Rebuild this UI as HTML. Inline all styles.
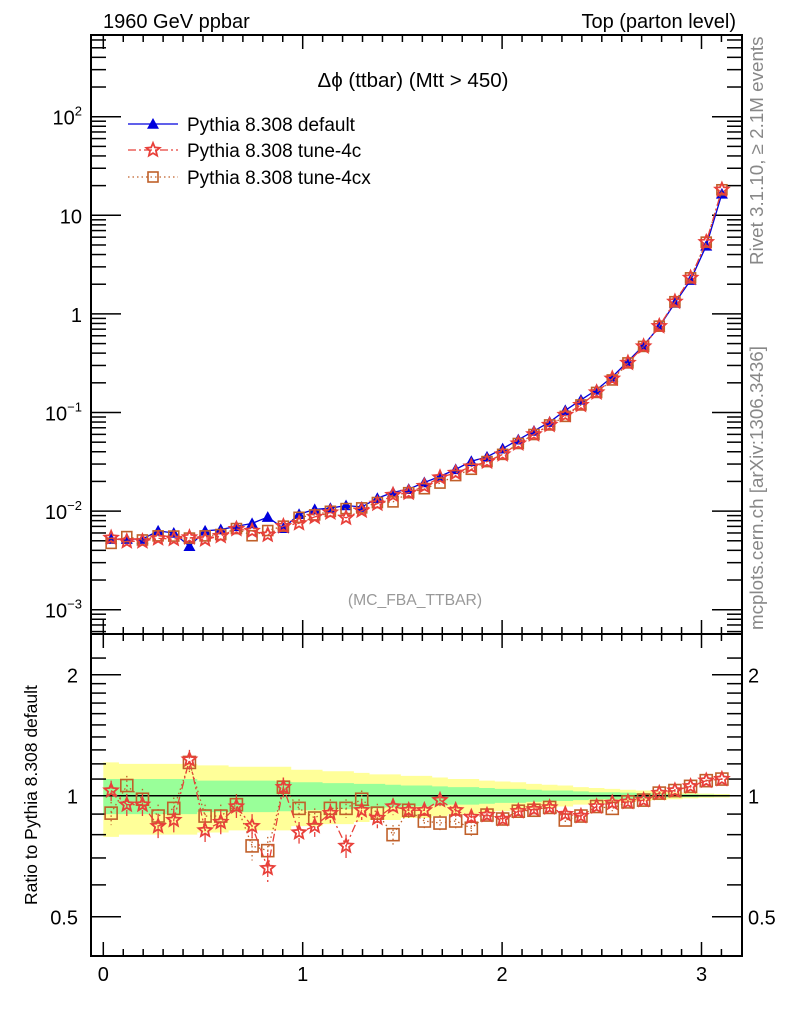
<!DOCTYPE html>
<html><head><meta charset="utf-8">
<style>
body{margin:0;background:#fff;}
svg{display:block;font-family:"Liberation Sans",sans-serif;}
</style></head>
<body>
<svg id="chart" width="786" height="1024" viewBox="0 0 786 1024" xmlns="http://www.w3.org/2000/svg">
<text x="103" y="28" font-size="20">1960 GeV ppbar</text>
<text x="736" y="28" font-size="20" text-anchor="end">Top (parton level)</text>
<text x="413" y="87" font-size="20.5" text-anchor="middle">Δϕ (ttbar) (Mtt &gt; 450)</text>
<text x="415" y="605" font-size="15.7" fill="#999" text-anchor="middle">(MC_FBA_TTBAR)</text>
<text transform="translate(763,265) rotate(-90)" font-size="18.8" fill="#888">Rivet 3.1.10, ≥ 2.1M events</text>
<text transform="translate(763,630) rotate(-90)" font-size="18.8" fill="#888">mcplots.cern.ch [arXiv:1306.3436]</text>
<text transform="translate(37,905) rotate(-90)" font-size="17.5">Ratio to Pythia 8.308 default</text>
<g id="bands"></g>
<g id="axes"></g>
<g id="series"></g>
<g id="legend"></g>
</svg>
<script>
const NS="http://www.w3.org/2000/svg";
const nBins=40;
const defaultVals=[0.0052,0.0052,0.0052,0.0063,0.006,0.0044,0.0063,0.0065,0.007,0.0075,0.0087,0.0067,0.0093,0.0104,0.0107,0.0114,0.011,0.0135,0.0155,0.0167,0.0195,0.0225,0.0265,0.032,0.0355,0.043,0.053,0.065,0.08,0.105,0.134,0.17,0.23,0.33,0.48,0.74,1.29,2.2,4.9,16.5];
const ratio4c=[1.03,0.95,0.95,0.84,0.87,1.23,0.82,0.86,0.94,0.84,0.66,1.05,0.81,0.84,0.905,0.75,0.92,0.88,0.94,0.92,0.92,0.975,0.92,0.885,0.895,0.875,0.915,0.925,0.935,0.90,0.89,0.94,0.96,0.965,0.975,1.015,1.03,1.055,1.09,1.1];
const ratio4cx=[0.905,1.06,0.98,0.89,0.93,1.21,0.89,0.89,0.95,0.75,0.73,1.05,0.93,0.88,0.93,0.93,0.98,0.905,0.80,0.92,0.865,0.855,0.865,0.83,0.895,0.875,0.915,0.92,0.935,0.87,0.89,0.94,0.93,0.965,0.975,1.015,1.03,1.055,1.09,1.1];
const ratioErr=[0.06,0.06,0.06,0.06,0.06,0.07,0.06,0.06,0.06,0.06,0.06,0.06,0.05,0.05,0.05,0.05,0.05,0.05,0.045,0.04,0.04,0.04,0.035,0.035,0.03,0.03,0.025,0.025,0.02,0.02,0.02,0.015,0.015,0.012,0.01,0.01,0.008,0.008,0.006,0.005];
const band1=[0.1,0.1,0.1,0.1,0.1,0.1,0.09,0.09,0.09,0.09,0.09,0.085,0.08,0.08,0.075,0.075,0.07,0.07,0.065,0.06,0.06,0.055,0.05,0.05,0.045,0.04,0.04,0.035,0.03,0.03,0.025,0.02,0.02,0.018,0.015,0.012,0.01,0.008,0.006,0.005];
const band2=[0.21,0.2,0.2,0.2,0.2,0.2,0.19,0.19,0.18,0.18,0.18,0.18,0.16,0.16,0.15,0.15,0.14,0.13,0.13,0.12,0.12,0.11,0.1,0.1,0.09,0.085,0.08,0.07,0.065,0.06,0.05,0.045,0.04,0.035,0.03,0.025,0.02,0.015,0.012,0.01];
const xTicks=[0,1,2,3];
const mainTicks=[[2,"10<tspan dy='-9' font-size='13'>2</tspan>"],[1,"10"],[0,"1"],[-1,"10<tspan dy='-9' font-size='13'>−1</tspan>"],[-2,"10<tspan dy='-9' font-size='13'>−2</tspan>"],[-3,"10<tspan dy='-9' font-size='13'>−3</tspan>"]];
const ratioTicks=[[2,"2"],[1,"1"],[0.5,"0.5"]];

const L=91,R=742,T=35,MB=634,RB=956;
const X=v=>103.3+v*199.4;
const YM=v=>116.7-(Math.log10(v)-2)*98.6;
const YR=v=>795.7-Math.log2(v)*121;
const binW=Math.PI/nBins;
const centers=defaultVals.map((_,i)=>(i+0.5)*binW);

function el(tag,attrs,parent){const e=document.createElementNS(NS,tag);for(const k in attrs)e.setAttribute(k,attrs[k]);parent.appendChild(e);return e;}
const axes=document.getElementById('axes'),series=document.getElementById('series'),bands=document.getElementById('bands'),legend=document.getElementById('legend');

function bandPath(b){let top="",bot="";for(let i=0;i<nBins;i++){const x0=X(i*binW),x1=X((i+1)*binW);top+=`L${x0},${YR(1+b[i])}L${x1},${YR(1+b[i])}`;}
for(let i=nBins-1;i>=0;i--){const x0=X(i*binW),x1=X((i+1)*binW);bot+=`L${x1},${YR(1-b[i])}L${x0},${YR(1-b[i])}`;}return "M"+top.slice(1)+bot+"Z";}
let p=el('path',{d:bandPath(band2),fill:'#ffff99'},bands);


p=el('path',{d:bandPath(band1),fill:'#99ff99'},bands);


el('line',{x1:L,x2:R,y1:YR(1),y2:YR(1),stroke:'#000','stroke-width':1.5},bands);

el('rect',{x:L,y:T,width:R-L,height:MB-T,fill:'none',stroke:'#000','stroke-width':2},axes);
el('rect',{x:L,y:MB,width:R-L,height:RB-MB,fill:'none',stroke:'#000','stroke-width':2},axes);
for(let v=0;v<=3.2;v+=0.1){const x=X(v);if(x>R)break;const maj=Math.abs(v-Math.round(v))<1e-6;const len=maj?14:7;
 for(const [y0,dir] of [[T,1],[MB,-1],[MB,1],[RB,-1]]) el('line',{x1:x,x2:x,y1:y0,y2:y0+dir*len,stroke:'#000','stroke-width':1.5},axes);}
xTicks.forEach(v=>{const t=el('text',{x:X(v),y:981,'font-size':20,'text-anchor':'middle'},axes);t.textContent=v;

});
for(let d=-4;d<=2;d++){for(let m=1;m<=9;m++){const y=YM(m*Math.pow(10,d));if(y<T||y>MB)continue;const len=m==1?30:15;
 el('line',{x1:L,x2:L+len,y1:y,y2:y,stroke:'#000','stroke-width':1.5},axes);el('line',{x1:R,x2:R-len,y1:y,y2:y,stroke:'#000','stroke-width':1.5},axes);}}
mainTicks.forEach(([d,lab])=>{const t=el('text',{x:82,y:YM(Math.pow(10,d))+8,'font-size':20,'text-anchor':'end'},axes);t.innerHTML=lab;

});
[0.5,0.6,0.7,0.8,0.9,1,1.1,1.2,1.3,1.4,1.5,1.6,1.7,1.8,1.9,2,2.2].forEach(v=>{const y=YR(v);const maj=[0.5,1,2].includes(v);const len=maj?30:15;
 el('line',{x1:L,x2:L+len,y1:y,y2:y,stroke:'#000','stroke-width':1.5},axes);el('line',{x1:R,x2:R-len,y1:y,y2:y,stroke:'#000','stroke-width':1.5},axes);});
ratioTicks.forEach(([v,lab])=>{let t=el('text',{x:78,y:YR(v)+8,'font-size':20,'text-anchor':'end'},axes);t.textContent=lab;


t=el('text',{x:748,y:YR(v)+8,'font-size':20},axes);t.textContent=lab;

});

function tri(x,y,s,c,g){el('path',{d:`M${x},${y-s}L${x+s},${y+s*0.8}L${x-s},${y+s*0.8}Z`,fill:c},g);}
function star(x,y,s,c,g){let d="";for(let k=0;k<10;k++){const r=k%2?s*0.45:s;const a=-Math.PI/2+k*Math.PI/5;d+=(k?"L":"M")+(x+r*Math.cos(a))+","+(y+r*Math.sin(a));}el('path',{d:d+"Z",fill:'none',stroke:c,'stroke-width':1.8},g);}
function sq(x,y,s,c,g){el('rect',{x:x-s,y:y-s,width:2*s,height:2*s,fill:'none',stroke:c,'stroke-width':1.6},g);}
const BLUE='#0000dd',RED='#e8403a',BROWN='#c0602a';
function drawSeries(name,xs,ys,color,dash,marker,size,errs){
 const g=el('g',{},series);
 el('path',{d:xs.map((x,i)=>(i?"L":"M")+x+","+ys[i][0]).join(""),fill:'none',stroke:color,'stroke-width':1.3,'stroke-dasharray':dash},g);
 if(errs) xs.forEach((x,i)=>{el('line',{x1:x,x2:x,y1:ys[i][1],y2:ys[i][2],stroke:color,'stroke-width':1.3,'stroke-dasharray':dash},g);});
 xs.forEach((x,i)=>marker(x,ys[i][0],size,color,g));}
const xs=centers.map(X);
drawSeries('series-default-main',xs,defaultVals.map(v=>[YM(v)]),BLUE,'none',tri,6,false);
drawSeries('series-tune4cx-main',xs,defaultVals.map((v,i)=>[YM(v*ratio4cx[i])]),BROWN,'1.5 3',sq,5,false);
drawSeries('series-tune4c-main',xs,defaultVals.map((v,i)=>[YM(v*ratio4c[i])]),RED,'8 3 2 3',star,7,false);
drawSeries('series-tune4cx-ratio',xs,ratio4cx.map((v,i)=>[YR(v),YR(v+ratioErr[i]),YR(v-ratioErr[i])]),BROWN,'1.5 3',sq,6,true);
drawSeries('series-tune4c-ratio',xs,ratio4c.map((v,i)=>[YR(v),YR(v+ratioErr[i]),YR(v-ratioErr[i])]),RED,'8 3 2 3',star,7,true);

[['Pythia 8.308 default',BLUE,'none',tri,124],['Pythia 8.308 tune-4c',RED,'8 3 2 3',star,150],['Pythia 8.308 tune-4cx',BROWN,'1.5 3',sq,177]].forEach(([lab,c,dash,m,y],i)=>{
 const g=el('g',{},legend);
 el('line',{x1:128,x2:178,y1:y,y2:y,stroke:c,'stroke-width':1.3,'stroke-dasharray':dash},g);
 m(153,y,i==0?6:i==1?7:5,c,g);
 const t=el('text',{x:187,y:y+7,'font-size':19},g);t.textContent=lab;});
</script>
</body></html>
